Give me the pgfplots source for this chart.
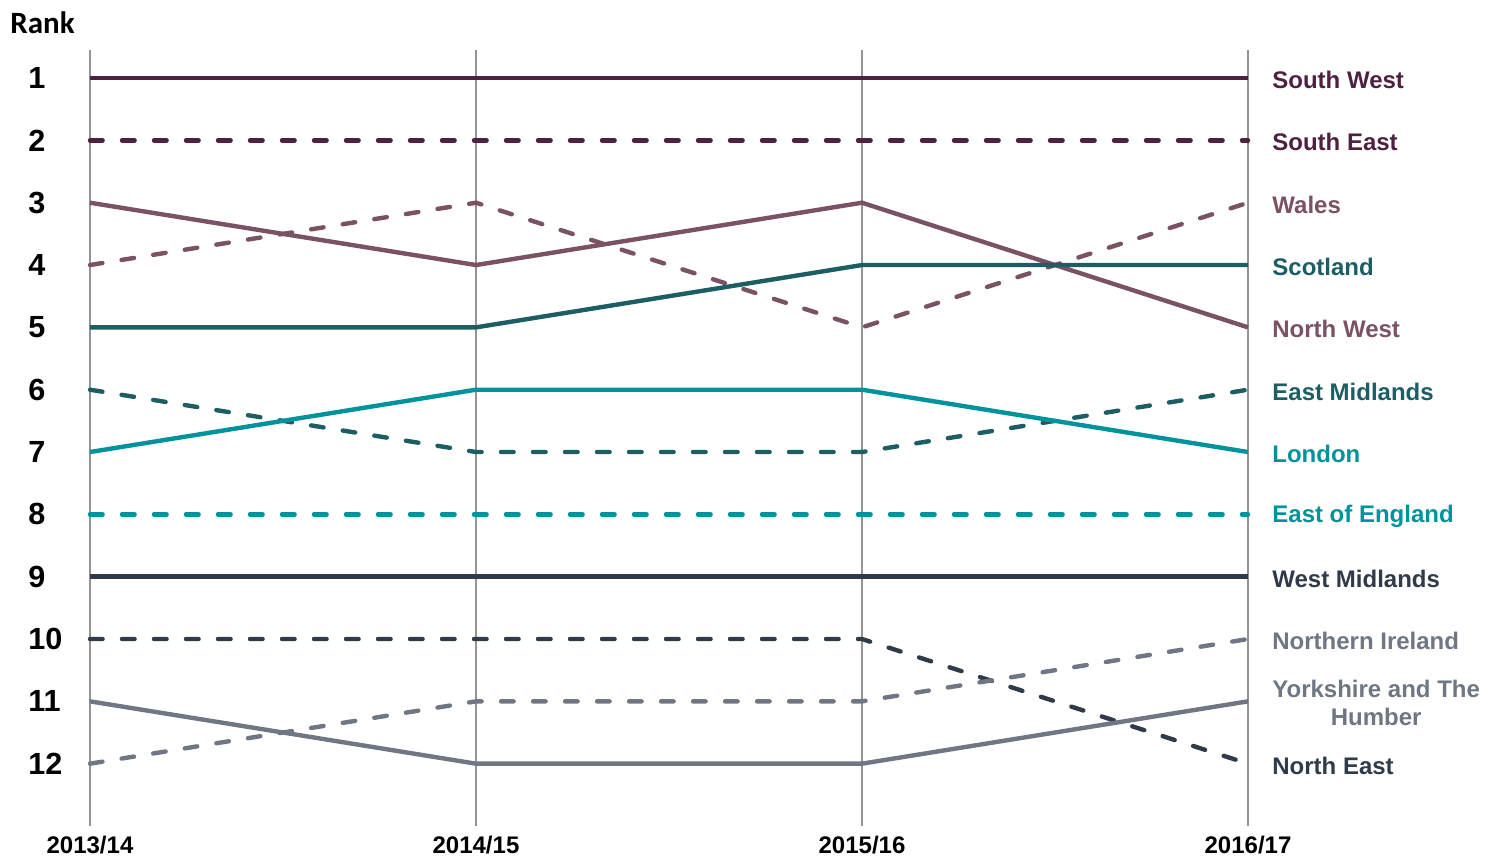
\documentclass[border=0pt]{standalone}
\usepackage{fontspec}
\setmainfont{Liberation Sans}
\newfontfamily\rankfont{Carlito}
\usepackage{pgfplots}
\pgfplotsset{compat=1.18}

\definecolor{plum}{HTML}{4F2140}
\definecolor{mauve}{HTML}{7A5263}
\definecolor{dteal}{HTML}{1C5E63}
\definecolor{teal}{HTML}{00939C}
\definecolor{slate}{HTML}{2F3B48}
\definecolor{greyl}{HTML}{6F7784}

\begin{document}
\begin{tikzpicture}
\path[use as bounding box] (0,0) rectangle (748pt,428.5pt);
\node[anchor=north west, inner sep=0pt] at (5pt,423pt) {\rankfont\bfseries\fontsize{15.5}{15.5}\selectfont Rank};
\begin{axis}[
    at={(45pt,15.5pt)}, anchor=south west,
    scale only axis, width=579pt, height=388pt,
    xmin=0, xmax=3, ymin=0.55, ymax=13.0, y dir=reverse,
    clip=false,
    axis line style={draw=none},
    major tick length=0pt,
    xtick={0,1,2,3},
    xticklabels={2013/14,2014/15,2015/16,2016/17},
    ytick={1,...,12},
    yticklabels={1,2,3,4,5,6,7,8,9,10,11,12},
    xmajorgrids,
    grid style={color=black!42, line width=0.75pt},
    xticklabel style={anchor=north, inner sep=0pt, yshift=-5pt,
        font=\bfseries\fontsize{12}{12}\selectfont},
    yticklabel style={anchor=west, inner sep=0pt, xshift=-31pt,
        font=\bfseries\fontsize{15.3}{15.3}\selectfont},
    /pgf/number format/assume math mode=true,
    every axis plot/.append style={line width=2.2pt},
    dsh/.style={line cap=round, dash pattern=on 6.3pt off 9.7pt},
]
% South West
\addplot[plum] coordinates {(0,1) (1,1) (2,1) (3,1)};
% South East
\addplot[plum, dsh] coordinates {(0,2) (1,2) (2,2) (3,2)};
% Wales
\addplot[mauve, dsh] coordinates {(0,4) (1,3) (2,5) (3,3)};
% North West
\addplot[mauve] coordinates {(0,3) (1,4) (2,3) (3,5)};
% Scotland
\addplot[dteal] coordinates {(0,5) (1,5) (2,4) (3,4)};
% East Midlands
\addplot[dteal, dsh] coordinates {(0,6) (1,7) (2,7) (3,6)};
% London
\addplot[teal] coordinates {(0,7) (1,6) (2,6) (3,7)};
% East of England
\addplot[teal, dsh] coordinates {(0,8) (1,8) (2,8) (3,8)};
% West Midlands
\addplot[slate] coordinates {(0,9) (1,9) (2,9) (3,9)};
% North East
\addplot[slate, dsh] coordinates {(0,10) (1,10) (2,10) (3,12)};
% Northern Ireland
\addplot[greyl, dsh] coordinates {(0,12) (1,11) (2,11) (3,10)};
% Yorkshire and The Humber
\addplot[greyl] coordinates {(0,11) (1,12) (2,12) (3,11)};

\begin{scope}[every node/.style={anchor=west, inner sep=0pt, xshift=12pt, yshift=-1pt,
        font=\bfseries\fontsize{12}{14}\selectfont}]
\node[text=plum] at (axis cs:3,1) {South West};
\node[text=plum] at (axis cs:3,2) {South East};
\node[text=mauve] at (axis cs:3,3) {Wales};
\node[text=dteal] at (axis cs:3,4) {Scotland};
\node[text=mauve] at (axis cs:3,5) {North West};
\node[text=dteal] at (axis cs:3,6) {East Midlands};
\node[text=teal] at (axis cs:3,7) {London};
\node[text=teal] at (axis cs:3,8) {East of England};
\node[text=slate] at (axis cs:3,9) {West Midlands};
\node[text=greyl] at (axis cs:3,10) {Northern Ireland};
\node[text=greyl, align=center] at (axis cs:3,11) {Yorkshire and The\\Humber};
\node[text=slate] at (axis cs:3,12) {North East};
\end{scope}
\end{axis}
\end{tikzpicture}
\end{document}
